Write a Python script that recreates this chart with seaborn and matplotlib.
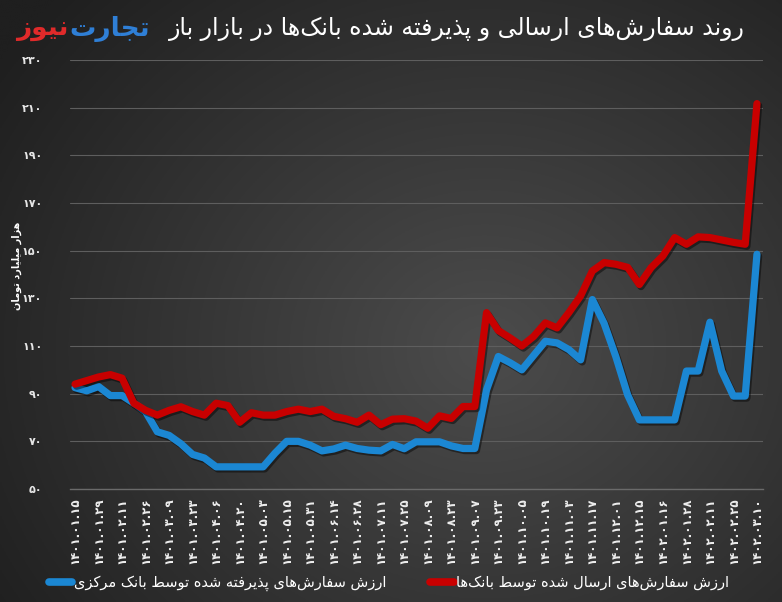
import numpy as np
import pandas as pd
import matplotlib
matplotlib.use("Agg")
import matplotlib.pyplot as plt
import matplotlib.patheffects as pe
from matplotlib.lines import Line2D
import seaborn as sns

# ---------------- data ----------------
dates = ["1401.01.15", "1401.01.29", "1401.02.11", "1401.02.26", "1401.03.09", "1401.03.23",
         "1401.04.06", "1401.04.20", "1401.05.03", "1401.05.15", "1401.05.31", "1401.06.14",
         "1401.06.28", "1401.07.11", "1401.07.25", "1401.08.09", "1401.08.23", "1401.09.07",
         "1401.09.23", "1401.10.05", "1401.10.19", "1401.11.03", "1401.11.17", "1401.12.01",
         "1401.12.15", "1402.01.16", "1402.01.28", "1402.02.11", "1402.02.25", "1402.03.10"]

sent_by_banks = [94, 95.5, 97, 98, 96.5, 86, 83, 81, 83, 84.5, 82.5, 81, 86, 85, 78,
                 82, 81, 81, 82.5, 83.5, 82.5, 83.5, 80.5, 79.5, 78, 81, 77, 79.3, 79.5, 78.5,
                 75.5, 80.7, 79.6, 84.6, 84.6,
                 124, 116.5, 113.4, 110, 114, 119.7, 117.6, 124, 131,
                 141.5, 145, 144.3, 143, 135.8, 142.9, 147.8, 155.5, 152.7, 155.8, 155.5,
                 154.5, 153.5, 152.7, 211.7]

accepted_by_cb = [92.5, 91.2, 93, 89.2, 89.2, 86, 82.4, 74, 72.5, 69, 64.5, 63, 59.3, 59.3, 59.3,
                  59.3, 59.3, 65, 70, 70, 68.4, 66, 66.8, 68.4, 67, 66.3, 66, 68.7, 66.9, 69.8,
                  69.8, 69.8, 68.1, 67, 67,
                  91.6, 105.6, 103, 100, 106, 112, 111.3, 108.5, 104.2,
                  129.5, 119.5, 105.5, 89.5, 79, 79, 79, 79, 99.5, 99.5, 120,
                  99.5, 89, 89, 148.5]

y_ticks = [50, 70, 90, 110, 130, 150, 170, 190, 210, 230]

title_text = "روند سفارش‌های ارسالی و پذیرفته شده بانک‌ها در بازار باز"
label_red = "ارزش سفارش‌های ارسال شده توسط بانک‌ها"
label_blue = "ارزش سفارش‌های پذیرفته شده توسط بانک مرکزی"
ylabel_text = "هزار میلیارد تومان"
logo_blue = "تجارت"
logo_red = "نیوز"

# ---------------- minimal Arabic/Persian shaping ----------------
_T = {
    '\u0627': (0xFE8D, 'R'), '\u0622': (0xFE81, 'R'), '\u062F': (0xFEA9, 'R'),
    '\u0630': (0xFEAB, 'R'), '\u0631': (0xFEAD, 'R'), '\u0632': (0xFEAF, 'R'),
    '\u0698': (0xFB8A, 'R'), '\u0648': (0xFEED, 'R'),
    '\u0628': (0xFE8F, 'D'), '\u062A': (0xFE95, 'D'), '\u062B': (0xFE99, 'D'),
    '\u062C': (0xFE9D, 'D'), '\u062D': (0xFEA1, 'D'), '\u062E': (0xFEA5, 'D'),
    '\u0633': (0xFEB1, 'D'), '\u0634': (0xFEB5, 'D'), '\u0635': (0xFEB9, 'D'),
    '\u0636': (0xFEBD, 'D'), '\u0637': (0xFEC1, 'D'), '\u0638': (0xFEC5, 'D'),
    '\u0639': (0xFEC9, 'D'), '\u063A': (0xFECD, 'D'), '\u0641': (0xFED1, 'D'),
    '\u0642': (0xFED5, 'D'), '\u0644': (0xFEDD, 'D'), '\u0645': (0xFEE1, 'D'),
    '\u0646': (0xFEE5, 'D'), '\u0647': (0xFEE9, 'D'), '\u064A': (0xFEF1, 'D'),
    '\u067E': (0xFB56, 'D'), '\u0686': (0xFB7A, 'D'), '\u06A9': (0xFB8E, 'D'),
    '\u06AF': (0xFB92, 'D'), '\u06CC': (0xFBFC, 'D'),
}


def fa(s):
    out = []
    for i, c in enumerate(s):
        if c == '\u200c':
            continue
        if c not in _T:
            out.append(c)
            continue
        base, t = _T[c]
        prev = s[i - 1] if i > 0 else None
        nxt = s[i + 1] if i + 1 < len(s) else None
        jp = prev in _T and _T[prev][1] == 'D'
        jn = t == 'D' and nxt in _T
        idx = 3 if (jp and jn) else 1 if jp else 2 if jn else 0
        out.append(chr(base + idx))
    return ''.join(out)[::-1]


_dig = str.maketrans("0123456789", "۰۱۲۳۴۵۶۷۸۹")


def fa_num(s):
    return str(s).translate(_dig)


# ---------------- figure ----------------
sns.set_theme(style="dark")
plt.rcParams['font.family'] = ['DejaVu Sans']

fig = plt.figure(figsize=(7.82, 6.02), dpi=100)

# background gradient
bg = fig.add_axes([0, 0, 1, 1], zorder=-5)
h, w = 300, 390
yy, xx = np.mgrid[0:1:h * 1j, 0:1:w * 1j]
d = np.sqrt(((xx - 0.62) / 0.75) ** 2 + ((yy - 0.58) / 0.85) ** 2)
d = np.clip(d, 0, 1)
light = np.array([0x4c, 0x4c, 0x4c]) / 255
dark = np.array([0x1f, 0x1f, 0x1f]) / 255
img = light[None, None, :] * (1 - d[..., None]) + dark[None, None, :] * d[..., None]
bg.imshow(img, extent=[0, 1, 0, 1], aspect='auto', origin='upper')
bg.set_axis_off()

ax = fig.add_axes([0.0895, 0.1877, 0.886, 0.7126])
ax.patch.set_alpha(0)

n = len(sent_by_banks)
df = pd.DataFrame({"idx": np.arange(n), "red": sent_by_banks, "blue": accepted_by_cb})

RED = "#c80000"
BLUE = "#1b87d3"
shadow = [pe.SimpleLineShadow(offset=(1.2, -1.5), shadow_color='black', alpha=0.45), pe.Normal()]

sns.lineplot(data=df, x="idx", y="blue", ax=ax, color=BLUE, linewidth=5.2,
             solid_joinstyle='round', solid_capstyle='round', path_effects=shadow, zorder=3)
sns.lineplot(data=df, x="idx", y="red", ax=ax, color=RED, linewidth=5.2,
             solid_joinstyle='round', solid_capstyle='round', path_effects=shadow, zorder=4)

ax.set_xlim(-0.43, n - 0.5)
ax.set_ylim(50, 230)
ax.set_yticks(y_ticks)
ax.set_yticklabels([fa_num(v) for v in y_ticks], color="#e6e6e6", fontsize=8, fontweight='bold')
ax.set_xticks(np.arange(0, n, 2))
ax.set_xticklabels([fa_num(d_) for d_ in dates], rotation=90, color="#eeeeee",
                   fontsize=8.5, fontweight='bold')
ax.tick_params(axis='both', length=0)
ax.tick_params(axis='y', pad=20)
ax.tick_params(axis='x', pad=6)
ax.set_xlabel("")
ax.set_ylabel("")
ax.grid(axis='y', color="#5e5e5e", linewidth=0.8)
ax.grid(axis='x', visible=False)
for s in ["top", "right", "left"]:
    ax.spines[s].set_visible(False)
ax.spines["bottom"].set_color("#6a6a6a")
ax.spines["bottom"].set_linewidth(1.0)

# y-axis label
fig.text(17 / 782, 1 - 266 / 602, fa(ylabel_text), rotation=90, color="white",
         fontsize=7, fontweight='bold', ha='center', va='center')

# title
fig.text(745 / 782, 1 - 29 / 602, fa(title_text), color="white", fontsize=17,
         ha='right', va='center')

# logo
t_blue = fig.text(150 / 782, 1 - 29 / 602, fa(logo_blue), color="#2f7fd6", fontsize=19,
                  fontweight='bold', ha='right', va='center')
fig.canvas.draw()
bb = t_blue.get_window_extent()
fig.text((bb.x0 - 1) / 782, 1 - 29 / 602, fa(logo_red), color="#e02a2a", fontsize=19,
         fontweight='bold', ha='right', va='center')

# legend
handles = [Line2D([0], [0], color=BLUE, linewidth=5.5, solid_capstyle='round'),
           Line2D([0], [0], color=RED, linewidth=5.5, solid_capstyle='round')]
labels = [fa(label_blue), fa(label_red)]
leg = fig.legend(handles, labels, loc='center', bbox_to_anchor=(0.497, 1 - 583 / 602),
                 ncol=2, frameon=False, fontsize=10.5, handlelength=1.6, handletextpad=0.15,
                 columnspacing=3.0)
for t in leg.get_texts():
    t.set_color("white")

fig.savefig("out.png", dpi=100)
